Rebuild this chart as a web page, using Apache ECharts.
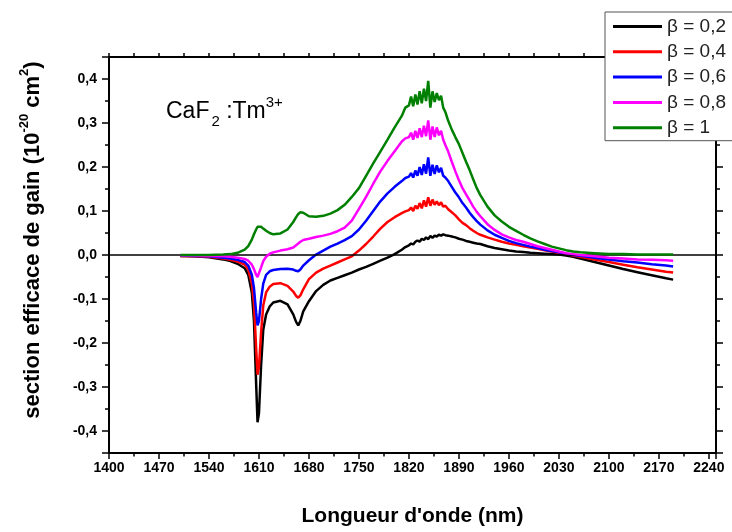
<!DOCTYPE html>
<html><head><meta charset="utf-8">
<script src="https://cdn.jsdelivr.net/npm/echarts@6/dist/echarts.min.js"></script>
<style>html,body{margin:0;padding:0;background:#fff}#c{width:732px;height:532px}</style>
</head><body><div id="c"></div>
<script>
const wavelengths = [1500,1520,1540,1560,1570,1580,1590,1595,
  1600,1603,1606,1608,1610,1613,1616,1620,1625,1630,
  1640,1650,1658,1662,1665,1668,1672,1680,1690,1700,
  1710,1720,1730,1740,1750,1760,1770,1780,1790,1800,
  1810,1815,1820,
  1823,1826,1829,1832,1835,1838,1841,1844,1847,1850,1853,1856,1859,1862,1865,1868,
  1871,1875,1880,1885,1890,1895,1900,1905,1910,1915,1920,
  1930,1940,1950,1960,1970,1980,1990,2000,2010,2020,2030,2040,2050,2060,
  2080,2100,2120,2140,2160,2180,2190];

const beta02 = [-0.002,-0.003,-0.005,-0.010,-0.014,-0.020,-0.030,-0.045,
  -0.085,-0.15,-0.29,-0.38,-0.36,-0.25,-0.17,-0.135,-0.117,-0.108,
  -0.104,-0.112,-0.135,-0.152,-0.160,-0.150,-0.128,-0.105,-0.082,-0.068,
  -0.058,-0.052,-0.046,-0.040,-0.033,-0.027,-0.020,-0.013,-0.006,0.002,
  0.012,0.018,0.022,
  0.026,0.024,0.030,0.033,0.030,0.037,0.034,0.040,0.036,0.043,0.039,0.044,0.042,0.046,0.044,0.047,
  0.045,0.044,0.042,0.040,0.037,0.035,0.032,0.030,0.028,0.026,0.025,
  0.020,0.016,0.013,0.010,0.008,0.007,0.005,0.004,0.003,0.002,0.001,-0.001,-0.004,-0.008,
  -0.016,-0.024,-0.032,-0.039,-0.046,-0.053,-0.056];

const beta04 = [-0.002,-0.003,-0.004,-0.008,-0.011,-0.015,-0.022,-0.033,
  -0.065,-0.11,-0.21,-0.272,-0.255,-0.175,-0.115,-0.085,-0.072,-0.066,
  -0.064,-0.070,-0.083,-0.093,-0.097,-0.092,-0.078,-0.055,-0.040,-0.031,
  -0.024,-0.017,-0.010,-0.003,0.010,0.025,0.042,0.060,0.075,0.086,
  0.095,0.099,0.102,
  0.108,0.100,0.112,0.105,0.118,0.106,0.124,0.110,0.131,0.112,0.126,0.114,0.122,0.113,0.120,0.110,
  0.112,0.104,0.097,0.090,0.081,0.073,0.068,0.061,0.055,0.050,0.046,
  0.040,0.035,0.030,0.026,0.023,0.020,0.017,0.014,0.011,0.008,0.005,0.002,-0.001,-0.004,
  -0.010,-0.016,-0.022,-0.028,-0.033,-0.038,-0.040];

const beta06 = [-0.001,-0.002,-0.003,-0.006,-0.008,-0.011,-0.016,-0.024,
  -0.045,-0.075,-0.13,-0.16,-0.15,-0.10,-0.065,-0.045,-0.037,-0.034,
  -0.032,-0.031,-0.033,-0.036,-0.037,-0.033,-0.024,-0.012,0.001,0.010,
  0.019,0.026,0.034,0.043,0.058,0.078,0.100,0.122,0.140,0.155,
  0.168,0.175,0.178,
  0.186,0.176,0.192,0.180,0.200,0.182,0.206,0.185,0.222,0.180,0.205,0.184,0.204,0.188,0.198,0.180,
  0.176,0.168,0.155,0.142,0.131,0.118,0.108,0.096,0.086,0.077,0.069,
  0.056,0.046,0.039,0.032,0.027,0.023,0.019,0.016,0.012,0.009,0.006,0.003,0.000,-0.002,
  -0.006,-0.010,-0.014,-0.017,-0.021,-0.024,-0.026];

const beta08 = [-0.001,-0.001,-0.002,-0.003,-0.004,-0.006,-0.009,-0.013,
  -0.022,-0.032,-0.045,-0.050,-0.046,-0.028,-0.014,-0.004,0.003,0.006,
  0.010,0.013,0.017,0.022,0.026,0.030,0.034,0.037,0.041,0.044,
  0.048,0.054,0.062,0.078,0.105,0.132,0.162,0.190,0.214,0.236,
  0.258,0.265,0.268,
  0.278,0.262,0.282,0.266,0.288,0.268,0.294,0.270,0.306,0.262,0.292,0.268,0.290,0.272,0.282,0.262,
  0.250,0.235,0.212,0.190,0.170,0.152,0.138,0.124,0.110,0.098,0.088,
  0.070,0.057,0.047,0.040,0.034,0.030,0.025,0.020,0.016,0.012,0.008,0.004,0.002,0.000,
  -0.003,-0.006,-0.008,-0.010,-0.011,-0.012,-0.013];

const beta10 = [0.000,0.000,0.000,0.001,0.002,0.005,0.012,0.020,
  0.035,0.047,0.058,0.064,0.066,0.064,0.060,0.055,0.050,0.047,
  0.049,0.058,0.075,0.086,0.093,0.097,0.096,0.088,0.087,0.089,
  0.094,0.102,0.114,0.132,0.152,0.180,0.208,0.235,0.262,0.290,
  0.316,0.335,0.340,
  0.360,0.338,0.365,0.342,0.372,0.345,0.378,0.350,0.396,0.335,0.372,0.348,0.368,0.352,0.362,0.335,
  0.325,0.305,0.285,0.268,0.252,0.232,0.212,0.193,0.172,0.152,0.136,
  0.110,0.090,0.076,0.064,0.055,0.046,0.038,0.031,0.025,0.019,0.015,0.011,0.008,0.006,
  0.004,0.002,0.002,0.001,0.001,0.001,0.001];

const seriesNames = ['β = 0,2','β = 0,4','β = 0,6','β = 0,8','β = 1'];
const seriesColors = ['#000000','#ff0000','#0000ff','#ff00ff','#008000'];
const seriesValues = [beta02, beta04, beta06, beta08, beta10];

const xMin = 1400, xMax = 2250, xStep = 70;
const yMin = -0.45, yMax = 0.45;

const FONT = 'Arial, "Liberation Sans", sans-serif';
const chart = echarts.init(document.getElementById('c'), null, {renderer:'canvas'});

function fmtY(v){
  const r = Math.round(v*10);
  if (Math.abs(v*10 - r) > 1e-6) return '';
  return (r/10).toFixed(1).replace('.', ',');
}
function fmtX(v){
  if (Math.abs((v - xMin) % xStep) > 1e-6) return '';
  return String(v);
}
const axisLineStyle = {color:'#000', width:2};
const tickStyle = {color:'#000', width:1.5};

const series = seriesValues.map((vals, i) => ({
  name: seriesNames[i],
  type: 'line',
  data: wavelengths.map((w, k) => [w, vals[k]]),
  showSymbol: false,
  symbol: 'none',
  smooth: false,
  lineStyle: {color: seriesColors[i], width: 2.5},
  itemStyle: {color: seriesColors[i]},
  z: 2 + i,
  animation: false
}));
series[0].markLine = {
  silent: true, symbol: 'none', label: {show:false},
  lineStyle: {color:'#000', width:1.5, type:'solid'},
  data: [{yAxis: 0}],
  animation: false
};

chart.setOption({
  animation: false,
  backgroundColor: '#fff',
  grid: {left:109, right:16, top:57, bottom:63, containLabel:false},
  xAxis: [{
    type:'value', min:xMin, max:xMax, interval:xStep, position:'bottom',
    axisLine:{onZero:false, lineStyle:axisLineStyle},
    axisTick:{show:true, length:6, lineStyle:tickStyle},
    minorTick:{show:true, splitNumber:2, length:3.5, lineStyle:tickStyle},
    splitLine:{show:false},
    axisLabel:{formatter:fmtX, fontSize:14, fontWeight:'bold', color:'#000', margin:8, fontFamily:FONT, showMaxLabel:false},
    name:"Longueur d'onde (nm)", nameLocation:'middle', nameGap:53,
    nameTextStyle:{fontSize:21, fontWeight:'bold', color:'#000', fontFamily:FONT}
  },{
    type:'value', min:xMin, max:xMax, interval:xStep, position:'top',
    axisLine:{onZero:false, lineStyle:axisLineStyle},
    axisTick:{show:true, length:4, lineStyle:tickStyle},
    minorTick:{show:true, splitNumber:2, length:4, lineStyle:tickStyle},
    splitLine:{show:false}, axisLabel:{show:false}
  }],
  yAxis: [{
    type:'value', min:yMin, max:yMax, splitNumber:9, position:'left',
    axisLine:{onZero:false, lineStyle:axisLineStyle},
    axisTick:{show:true, length:7, lineStyle:tickStyle},
    minorTick:{show:true, splitNumber:2, length:4, lineStyle:tickStyle},
    splitLine:{show:false},
    axisLabel:{formatter:fmtY, fontSize:14, fontWeight:'bold', color:'#000', margin:12, fontFamily:FONT}
  },{
    type:'value', min:yMin, max:yMax, splitNumber:9, position:'right',
    axisLine:{onZero:false, lineStyle:axisLineStyle},
    axisTick:{show:true, length:7, lineStyle:tickStyle},
    minorTick:{show:true, splitNumber:2, length:4, lineStyle:tickStyle},
    splitLine:{show:false}, axisLabel:{show:false}
  }],
  legend: {
    orient:'vertical', left:605, top:12,
    itemWidth:49, itemHeight:3, itemGap:5.3,
    padding:[4.5,20,3,8],
    borderColor:'#555', borderWidth:1, backgroundColor:'#fff',
    icon:'rect',
    textStyle:{fontSize:19, color:'#222', lineHeight:20, fontFamily:FONT},
    data: seriesNames,
    z: 10
  },
  graphic: [{
    type:'text', left:166, top:95, z:20,
    style:{
      text:'{a|CaF}{b|2}{a| :Tm}{c|3+}',
      rich:{
        a:{fontSize:23, fontFamily:FONT, fill:'#000', verticalAlign:'middle', lineHeight:34},
        b:{fontSize:15, fontFamily:FONT, fill:'#000', verticalAlign:'bottom', lineHeight:34, padding:[0,0,0,2]},
        c:{fontSize:15, fontFamily:FONT, fill:'#000', verticalAlign:'top', lineHeight:34}
      }
    }
  },{
    type:'text', x:33, y:240, rotation:Math.PI/2, z:20,
    style:{
      text:'{n|section efficace de gain (10}{s|-20}{n| cm}{s|2}{n|)}',
      align:'center', verticalAlign:'middle',
      rich:{
        n:{fontSize:22, fontWeight:'bold', fontFamily:FONT, fill:'#000', verticalAlign:'middle', lineHeight:30},
        s:{fontSize:13, fontWeight:'bold', fontFamily:FONT, fill:'#000', verticalAlign:'top', lineHeight:30}
      }
    }
  }],
  series: series
});
</script>
</body></html>
